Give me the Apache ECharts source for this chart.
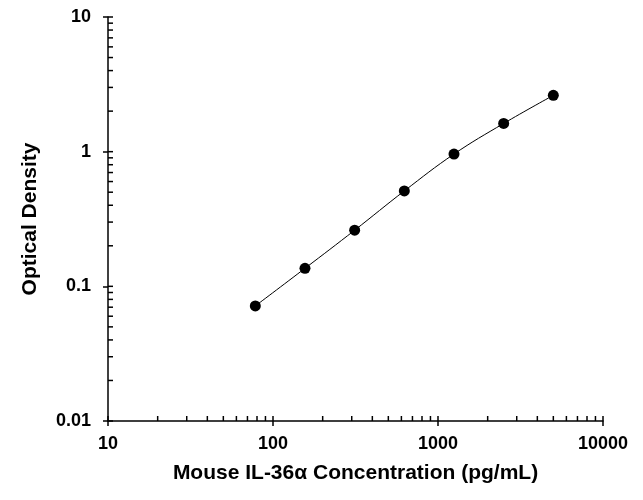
<!DOCTYPE html>
<html>
<head>
<meta charset="utf-8">
<script src="https://cdn.jsdelivr.net/npm/echarts@6/dist/echarts.min.js"></script>
<style>
  html, body { margin: 0; padding: 0; background: #fff; }
  #chart { width: 643px; height: 500px; }
</style>
</head>
<body>
<div id="chart"></div>
<script>
// standard curve, concentration vs OD
const concentration = [78.125, 156.25, 312.5, 625, 1250, 2500, 5000]
const opticalDensity = [0.0715, 0.136, 0.261, 0.511, 0.96, 1.62, 2.62]

// tick values (inside ticks, majors + minors)
const xTickValues = [10, 20, 30, 40, 50, 60, 70, 80, 90, 100, 200, 300, 400, 500, 600, 700, 800, 900,
  1000, 2000, 3000, 4000, 5000, 6000, 7000, 8000, 9000, 10000]
const yTickValues = [0.01, 0.02, 0.03, 0.04, 0.05, 0.06, 0.07, 0.08, 0.09, 0.1, 0.2, 0.3, 0.4, 0.5, 0.6,
  0.7, 0.8, 0.9, 1, 2, 3, 4, 5, 6, 7, 8, 9, 10]

const font = "'Liberation Sans', Arial, sans-serif"
const fmt = v => String(Number(v.toPrecision(6)))

const myChart = echarts.init(document.getElementById('chart'))

const axisCommon = {
  type: 'log',
  logBase: 10,
  nameLocation: 'middle',
  nameTextStyle: { fontFamily: font, fontWeight: 'bold', fontSize: 21, color: '#000' },
  axisLine: { show: true, lineStyle: { color: '#000', width: 1.5 } },
  axisTick: { show: true, inside: false, length: 5, lineStyle: { color: '#000', width: 1.5 } },
  axisLabel: { fontFamily: font, fontWeight: 'bold', fontSize: 18, color: '#000', formatter: fmt },
  splitLine: { show: false },
  minorTick: { show: false }
}

const option = {
  animation: false,
  grid: { left: 108, right: 40, top: 17, bottom: 79 },
  xAxis: Object.assign({}, axisCommon, {
    min: 10,
    max: 10000,
    name: 'Mouse IL-36α Concentration (pg/mL)',
    nameGap: 42,
    axisLabel: Object.assign({}, axisCommon.axisLabel, { margin: 14 })
  }),
  yAxis: Object.assign({}, axisCommon, {
    min: 0.01,
    max: 10,
    name: 'Optical Density',
    nameGap: 67,
    axisLabel: Object.assign({}, axisCommon.axisLabel, { margin: 17 })
  }),
  series: [
    {
      type: 'line',
      data: concentration.map((c, i) => [c, opticalDensity[i]]),
      smooth: 0.4,
      symbol: 'circle',
      symbolSize: 11,
      itemStyle: { color: '#000' },
      lineStyle: { color: '#000', width: 1 },
      z: 5
    },
    {
      // inside ticks along x axis
      type: 'custom',
      silent: true,
      data: xTickValues.map(v => [v, 0.01]),
      renderItem: (params, api) => {
        const p = api.coord([api.value(0), api.value(1)])
        return {
          type: 'line',
          shape: { x1: p[0], y1: p[1], x2: p[0], y2: p[1] - 5 },
          style: { stroke: '#000', lineWidth: 1.5 }
        }
      }
    },
    {
      // inside ticks along y axis
      type: 'custom',
      silent: true,
      data: yTickValues.map(v => [10, v]),
      renderItem: (params, api) => {
        const p = api.coord([api.value(0), api.value(1)])
        return {
          type: 'line',
          shape: { x1: p[0], y1: p[1], x2: p[0] + 5, y2: p[1] },
          style: { stroke: '#000', lineWidth: 1.5 }
        }
      }
    }
  ]
}

myChart.setOption(option)
</script>
</body>
</html>
